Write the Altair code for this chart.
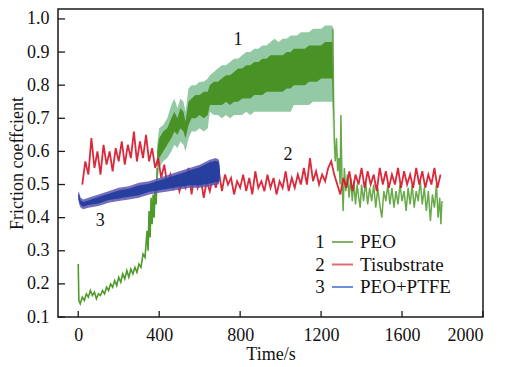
import altair as alt
import pandas as pd

# ---------------- data ----------------
# Curve 1 (PEO): running-in part before the wide band
peo_a_t = [0, 3, 10, 20, 30, 40, 50, 60, 70, 80, 90, 100, 110, 120, 130, 140, 150, 160, 170,
           180, 190, 200, 210, 220, 230, 240, 250, 260, 270, 280, 290, 300, 310, 320, 330,
           340, 345, 350, 355, 360, 365, 370, 375, 380, 385, 390]
peo_a_v = [0.26, 0.15, 0.14, 0.16, 0.15, 0.17, 0.16, 0.18, 0.165, 0.175, 0.155, 0.17, 0.165,
           0.18, 0.17, 0.19, 0.18, 0.20, 0.19, 0.21, 0.195, 0.22, 0.205, 0.23, 0.215, 0.24,
           0.22, 0.245, 0.23, 0.25, 0.235, 0.26, 0.25, 0.29, 0.28, 0.36, 0.30, 0.42, 0.34,
           0.46, 0.38, 0.47, 0.40, 0.50, 0.44, 0.55]
# Curve 1 (PEO): wide oscillating band (outer envelope and darker core)
peo_b_t = [390, 400, 420, 440, 460, 475, 490, 505, 520, 530, 545, 560, 580, 600, 620, 640,
           650, 670, 690, 710, 730, 750, 770, 790, 810, 830, 850, 870, 890, 910, 930, 950,
           970, 990, 1010, 1030, 1050, 1065, 1080, 1100, 1120, 1140, 1160, 1180, 1200, 1220,
           1240, 1255, 1260]
peo_b_lo = [0.50, 0.55, 0.57, 0.58, 0.60, 0.62, 0.61, 0.63, 0.62, 0.60, 0.64, 0.66, 0.66,
            0.67, 0.66, 0.67, 0.72, 0.71, 0.71, 0.70, 0.71, 0.70, 0.71, 0.71, 0.71, 0.72,
            0.71, 0.72, 0.72, 0.72, 0.72, 0.72, 0.72, 0.72, 0.72, 0.72, 0.72, 0.74, 0.74,
            0.74, 0.74, 0.74, 0.75, 0.75, 0.75, 0.75, 0.75, 0.75, 0.62]
peo_b_hi = [0.62, 0.67, 0.68, 0.70, 0.74, 0.76, 0.73, 0.76, 0.75, 0.72, 0.79, 0.80, 0.80,
            0.81, 0.81, 0.82, 0.83, 0.84, 0.85, 0.86, 0.86, 0.87, 0.88, 0.88, 0.89, 0.90,
            0.90, 0.91, 0.91, 0.92, 0.92, 0.93, 0.94, 0.93, 0.94, 0.94, 0.95, 0.95, 0.95,
            0.96, 0.96, 0.96, 0.97, 0.97, 0.97, 0.98, 0.98, 0.98, 0.97]
peo_b_clo = [0.55, 0.58, 0.60, 0.62, 0.64, 0.66, 0.65, 0.67, 0.66, 0.64, 0.68, 0.70, 0.70,
             0.71, 0.70, 0.71, 0.74, 0.74, 0.74, 0.74, 0.75, 0.74, 0.75, 0.75, 0.76, 0.76,
             0.76, 0.77, 0.77, 0.77, 0.78, 0.78, 0.78, 0.78, 0.78, 0.79, 0.79, 0.80, 0.80,
             0.80, 0.80, 0.81, 0.81, 0.81, 0.82, 0.82, 0.82, 0.82, 0.70]
peo_b_chi = [0.60, 0.64, 0.66, 0.67, 0.70, 0.72, 0.70, 0.73, 0.72, 0.69, 0.75, 0.76, 0.77,
             0.77, 0.78, 0.78, 0.80, 0.81, 0.81, 0.82, 0.83, 0.83, 0.84, 0.85, 0.85, 0.86,
             0.86, 0.87, 0.87, 0.88, 0.88, 0.89, 0.89, 0.89, 0.89, 0.90, 0.90, 0.91, 0.91,
             0.91, 0.91, 0.92, 0.92, 0.92, 0.92, 0.93, 0.93, 0.93, 0.80]
# Curve 1 (PEO): after the drop
peo_c_t = [1258, 1262, 1266, 1270, 1276, 1282, 1288, 1294, 1298, 1303, 1309, 1315, 1322,
           1330, 1338, 1346, 1354, 1362, 1370, 1378, 1386, 1393, 1400, 1410, 1420, 1430,
           1440, 1450, 1460, 1470, 1480, 1490, 1500, 1510, 1520, 1530, 1540, 1550, 1560,
           1570, 1580, 1590, 1600, 1610, 1620, 1630, 1640, 1650, 1660, 1670, 1680, 1690,
           1700, 1710, 1720, 1730, 1740, 1750, 1760, 1770, 1778, 1786, 1792, 1797]
peo_c_v = [0.97, 0.75, 0.62, 0.57, 0.64, 0.54, 0.58, 0.50, 0.71, 0.52, 0.42, 0.55, 0.48,
           0.53, 0.46, 0.52, 0.45, 0.51, 0.44, 0.50, 0.46, 0.43, 0.50, 0.45, 0.51, 0.44,
           0.49, 0.45, 0.50, 0.43, 0.49, 0.44, 0.40, 0.48, 0.45, 0.50, 0.44, 0.49, 0.43,
           0.48, 0.44, 0.50, 0.45, 0.48, 0.42, 0.49, 0.44, 0.50, 0.43, 0.48, 0.45, 0.51,
           0.44, 0.49, 0.42, 0.48, 0.39, 0.47, 0.43, 0.50, 0.40, 0.46, 0.38, 0.45]

# Curve 2 (Ti substrate)
ti_t = list(range(20, 1791, 15))
ti_v = [0.50, 0.57, 0.53, 0.64, 0.55, 0.60, 0.53, 0.62, 0.56, 0.60, 0.54, 0.61, 0.57, 0.63,
        0.56, 0.62, 0.58, 0.66, 0.57, 0.63, 0.58, 0.65, 0.57, 0.61, 0.55, 0.58, 0.52, 0.56,
        0.50, 0.53, 0.49, 0.52, 0.48, 0.51, 0.49, 0.55, 0.47, 0.53, 0.49, 0.52, 0.46, 0.51,
        0.48, 0.52, 0.49, 0.54, 0.48, 0.53, 0.50, 0.52, 0.47, 0.51, 0.49, 0.53, 0.48, 0.52,
        0.47, 0.54, 0.49, 0.51, 0.48, 0.53, 0.49, 0.52, 0.47, 0.51, 0.49, 0.54, 0.48, 0.52,
        0.49, 0.53, 0.50, 0.55, 0.50, 0.58, 0.51, 0.54, 0.50, 0.53, 0.51, 0.55, 0.57, 0.53,
        0.50, 0.47, 0.52, 0.49, 0.54, 0.48, 0.53, 0.50, 0.55, 0.49, 0.54, 0.50, 0.53, 0.48,
        0.55, 0.50, 0.54, 0.49, 0.53, 0.50, 0.55, 0.49, 0.54, 0.50, 0.53, 0.49, 0.55, 0.50,
        0.54, 0.49, 0.53, 0.50, 0.55, 0.49, 0.53]

# Curve 3 (PEO+PTFE): band
ptfe_t = [0, 5, 12, 25, 50, 100, 150, 200, 250, 300, 350, 400, 450, 500, 550, 600, 650,
          680, 695, 700]
ptfe_lo = [0.455, 0.44, 0.43, 0.425, 0.43, 0.435, 0.445, 0.45, 0.455, 0.46, 0.47, 0.475,
           0.48, 0.485, 0.49, 0.49, 0.495, 0.50, 0.50, 0.52]
ptfe_hi = [0.48, 0.475, 0.46, 0.455, 0.46, 0.47, 0.48, 0.49, 0.495, 0.505, 0.51, 0.52,
           0.53, 0.54, 0.55, 0.56, 0.575, 0.58, 0.575, 0.55]

# text
tick_x = [0, 400, 800, 1200, 1600, 2000]
tick_y = [0.1, 0.2, 0.3, 0.4, 0.5, 0.6, 0.7, 0.8, 0.9, 1.0]
ann_lab = ["1", "2", "3"]
ann_t = [790, 1037, 109]
ann_v = [0.935, 0.59, 0.39]
leg_num = ["1", "2", "3"]
leg_name = ["PEO", "Tisubstrate", "PEO+PTFE"]
leg_color = ["#7cb56a", "#e06a78", "#6e8fd6"]

# ---------------- chart ----------------
FONT = "Liberation Serif"
W, H = 425, 308
xs = alt.Scale(domain=[-100, 2000], nice=False, zero=False)
ys = alt.Scale(domain=[0.1, 1.03], nice=False, zero=False)
xaxis = alt.Axis(values=tick_x, format="d", title="Time/s", ticks=False, domain=False,
                 grid=False, labelPadding=9, titlePadding=1)
yaxis = alt.Axis(values=tick_y, format=".1f", title="Friction coeffcient", ticks=False,
                 domain=False, grid=False, labelPadding=9, titlePadding=0)


def X():
    return alt.X("t:Q", scale=xs, axis=xaxis)


def Y(f):
    return alt.Y(f"{f}:Q", scale=ys, axis=yaxis)


peo_a = pd.DataFrame({"t": peo_a_t, "v": peo_a_v})
peo_b = pd.DataFrame({"t": peo_b_t, "lo": peo_b_lo, "hi": peo_b_hi,
                      "clo": peo_b_clo, "chi": peo_b_chi})
peo_c = pd.DataFrame({"t": peo_c_t, "v": peo_c_v})
ti = pd.DataFrame({"t": ti_t, "v": ti_v})
ptfe = pd.DataFrame({"t": ptfe_t, "lo": ptfe_lo, "hi": ptfe_hi,
                     "clo": [a + 0.008 for a in ptfe_lo],
                     "chi": [b - 0.008 for b in ptfe_hi]})

layers = []
layers.append(alt.Chart(peo_b).mark_area(color="#8ec6a0", opacity=0.95, clip=True)
              .encode(x=X(), y=Y("lo"), y2="hi"))
layers.append(alt.Chart(peo_b).mark_area(color="#3f8c18", opacity=0.9, clip=True)
              .encode(x=X(), y=Y("clo"), y2="chi"))
layers.append(alt.Chart(peo_a).mark_line(color="#4e9a2a", strokeWidth=1.6, clip=True)
              .encode(x=X(), y=Y("v")))
layers.append(alt.Chart(peo_c).mark_line(color="#4e9a2a", strokeWidth=1.5, opacity=0.85,
                                         clip=True)
              .encode(x=X(), y=Y("v")))
layers.append(alt.Chart(ti).mark_line(color="#d8172b", strokeWidth=1.8, opacity=0.92, clip=True)
              .encode(x=X(), y=Y("v")))
layers.append(alt.Chart(ptfe).mark_area(color="#5c55b0", opacity=0.85, clip=True)
              .encode(x=X(), y=Y("lo"), y2="hi"))
layers.append(alt.Chart(ptfe).mark_area(color="#233c9c", opacity=0.95, clip=True)
              .encode(x=X(), y=Y("clo"), y2="chi"))

# inward ticks
layers.append(alt.Chart(pd.DataFrame({"t": tick_x})).mark_rule(color="#1a1a1a", strokeWidth=1.3)
              .encode(x=X(), y=alt.value(H), y2=alt.value(H - 6)))
layers.append(alt.Chart(pd.DataFrame({"v": tick_y})).mark_rule(color="#1a1a1a", strokeWidth=1.3)
              .encode(y=Y("v"), x=alt.value(0), x2=alt.value(7)))

# curve numbers
layers.append(alt.Chart(pd.DataFrame({"t": ann_t, "v": ann_v, "lab": ann_lab}))
              .mark_text(font=FONT, fontSize=18, color="#111")
              .encode(x=X(), y=Y("v"), text="lab:N"))

# legend
leg_y0, leg_dy = 233, 22.5
for i in range(3):
    yy = leg_y0 + i * leg_dy
    row = pd.DataFrame({"num": [leg_num[i]], "name": [leg_name[i]]})
    layers.append(alt.Chart(row).mark_text(font=FONT, fontSize=19, color="#111", align="center",
                                           baseline="middle")
                  .encode(x=alt.value(262), y=alt.value(yy), text="num:N"))
    layers.append(alt.Chart(row).mark_rule(color=leg_color[i], strokeWidth=2)
                  .encode(x=alt.value(274), x2=alt.value(295), y=alt.value(yy)))
    layers.append(alt.Chart(row).mark_text(font=FONT, fontSize=19, color="#111", align="left",
                                           baseline="middle")
                  .encode(x=alt.value(302), y=alt.value(yy), text="name:N"))

chart = alt.layer(*layers).properties(
    width=W, height=H,
    padding={"left": 50, "top": 1, "right": 14, "bottom": 50},
    autosize=alt.AutoSizeParams(type="none"),
).configure_view(stroke="#1a1a1a", strokeWidth=1.5).configure_axis(
    labelFont=FONT, titleFont=FONT, labelFontSize=18, titleFontSize=18,
    labelColor="#111", titleColor="#111", titleFontWeight="normal",
)

chart.save("out.html", embed_options={"renderer": "svg", "actions": False})
